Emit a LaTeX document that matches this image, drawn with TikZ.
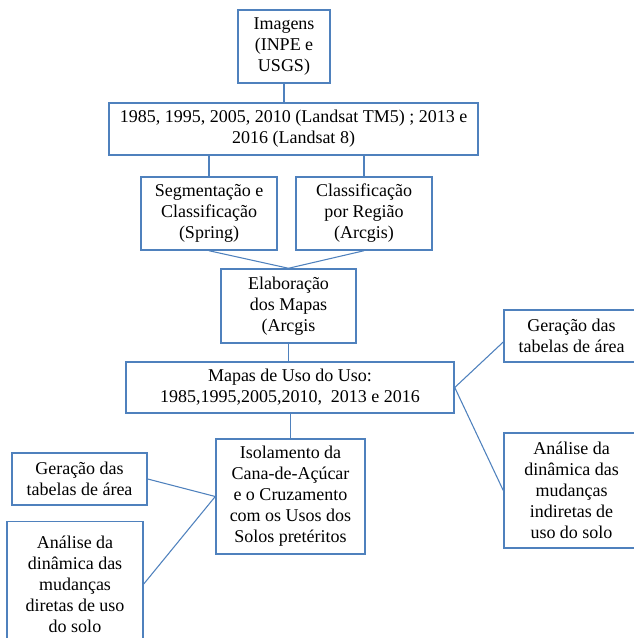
\documentclass[tikz,border=0pt]{standalone}
\usepackage{fontspec}
\setmainfont{Liberation Serif}
\usepackage{tikz}
\definecolor{boxblue}{RGB}{79,129,189}

\begin{document}
\begin{tikzpicture}[x=0.75pt, y=-0.75pt,
  caixa/.style={draw=boxblue, line width=1.1pt, inner sep=0pt, align=center,
    font=\fontsize{13.5}{15.75}\selectfont},
  liga/.style={draw=boxblue, line width=0.8pt}]
  \useasboundingbox (0,0) rectangle (633,638);

  \node[caixa, minimum width=69pt, minimum height=54.75pt] (img) at (284,46.5) {Imagens\\(INPE e\\USGS)};
  \node[caixa, minimum width=276.75pt, minimum height=39pt] (anos) at (293.5,129)
    {1985, 1995, 2005, 2010 (Landsat TM5) ; 2013 e\\2016 (Landsat 8)};

  \node[caixa, minimum width=102pt, minimum height=54.75pt] (seg) at (209,213.5) {Segmentação e\\Classificação\\(Spring)};
  \node[caixa, minimum width=102pt, minimum height=54.75pt] (reg) at (364,213.5) {Classificação\\por Região\\(Arcgis)};

  \node[caixa, minimum width=101.25pt, minimum height=55.5pt] (elab) at (288.5,306) {Elaboração\\dos Mapas\\(Arcgis};
  \node[caixa, minimum width=246pt, minimum height=38.25pt] (mapas) at (290,387.5)
    {Mapas de Uso do Uso:\\1985,1995,2005,2010,\ \ 2013 e 2016};

  \node[caixa, minimum width=111.75pt, minimum height=86.25pt] (iso) at (290.5,496.5)
    {Isolamento da\\Cana-de-Açúcar\\e o Cruzamento\\com os Usos dos\\Solos pretéritos};

  % ramos da esquerda
  \node[caixa, minimum width=101.25pt, minimum height=39pt] (gerE) at (79.5,479) {Geração das\\tabelas de área};
  \node[caixa, minimum width=102pt, minimum height=93.75pt] (anaE) at (75,584)
    {Análise da\\dinâmica das\\mudanças\\diretas de uso\\do solo};

  % ramos da direita
  \node[caixa, minimum width=101.25pt, minimum height=39pt] (gerD) at (571.5,336) {Geração das\\tabelas de área};
  \node[caixa, minimum width=101.25pt, minimum height=86.25pt] (anaD) at (571.5,490.5)
    {Análise da\\dinâmica das\\mudanças\\indiretas de\\uso do solo};

  \draw[liga] (img.south) to (img.south |- anos.north);
  \draw[liga] (seg.north) to (seg.north |- anos.south);
  \draw[liga] (reg.north) to (reg.north |- anos.south);
  \draw[liga] (seg.south) to (elab.north);
  \draw[liga] (reg.south) to (elab.north);
  \draw[liga] (elab.south) to (elab.south |- mapas.north);
  \draw[liga] (iso.north |- mapas.south) to (iso.north);

  \draw[liga] (gerE.east) to (iso.west);
  \draw[liga] (anaE.east) to (iso.west);
  \draw[liga] (mapas.east) to ([yshift=-4.5pt]gerD.west);
  \draw[liga] (mapas.east) to (anaD.west);
\end{tikzpicture}
\end{document}
